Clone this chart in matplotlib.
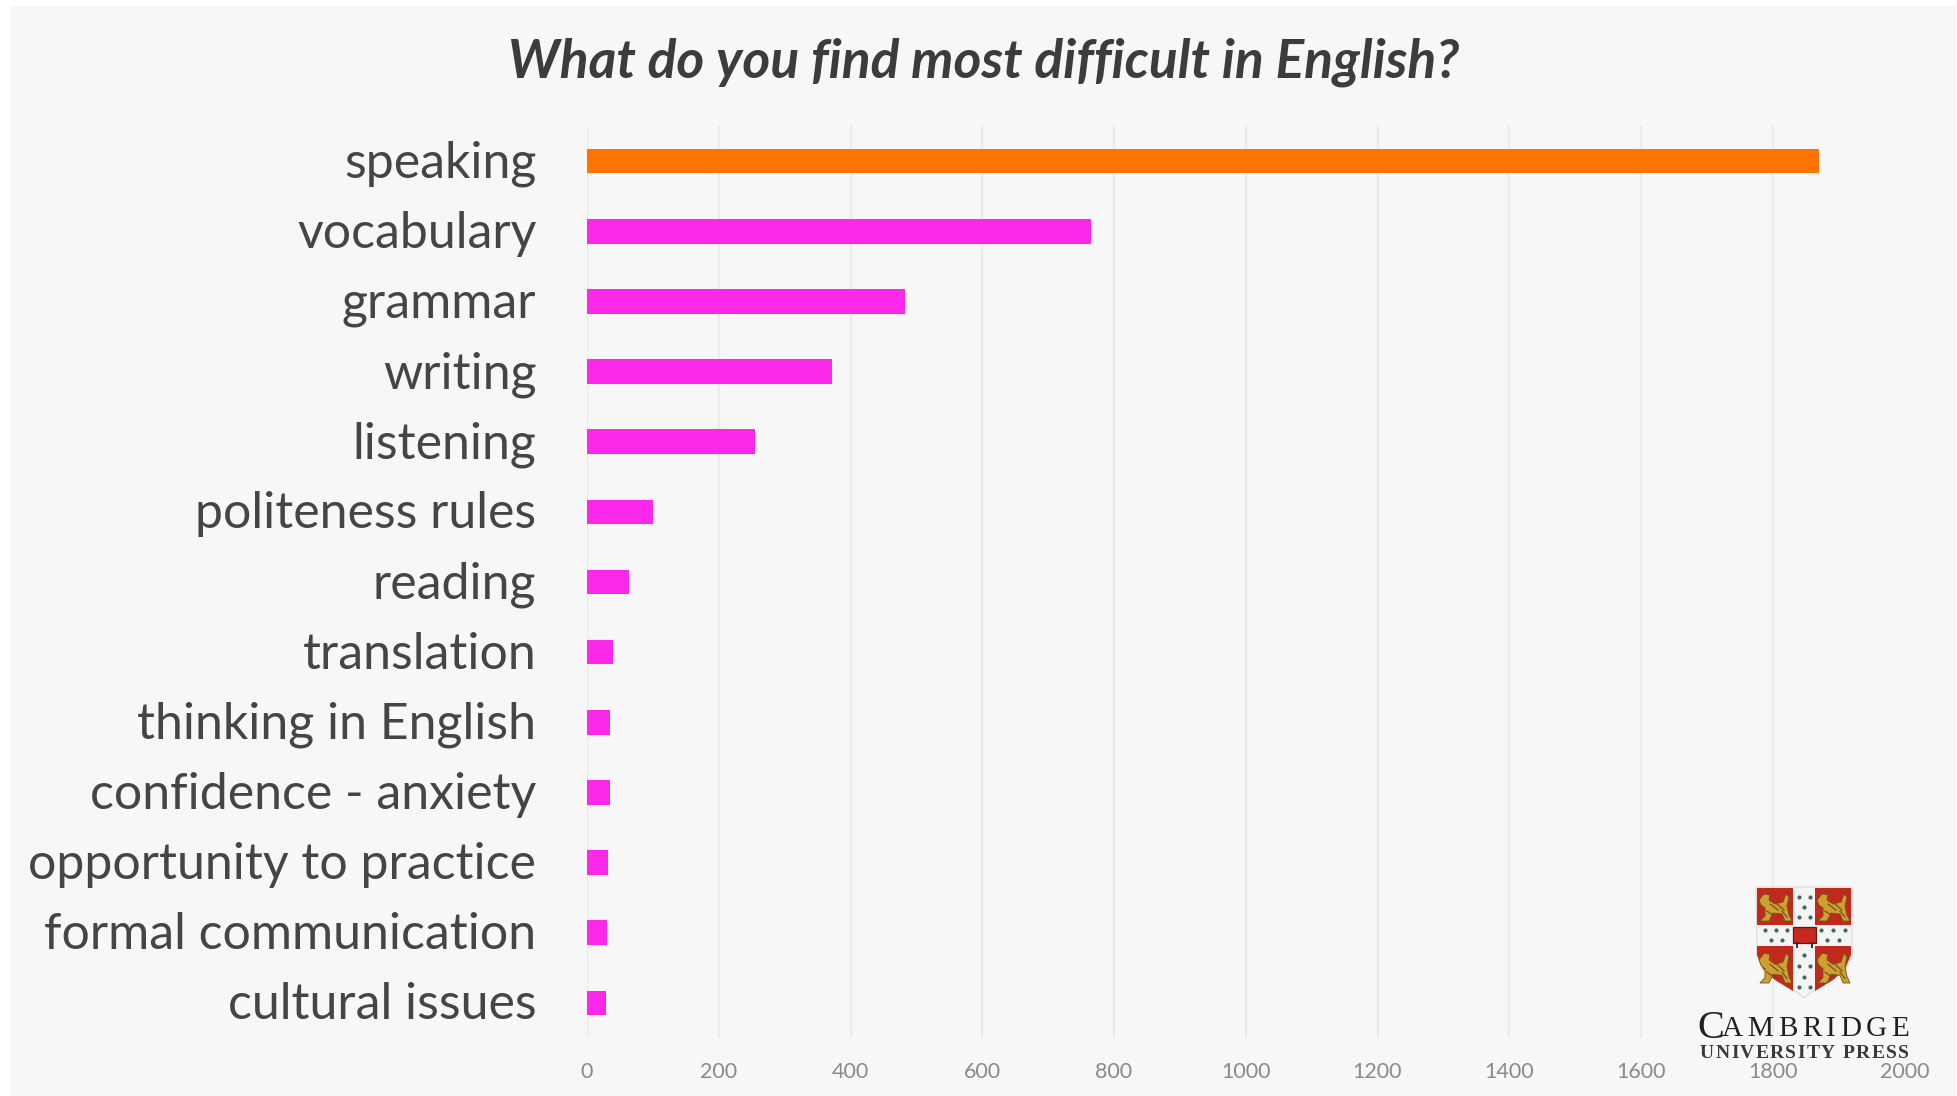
# horizontal bars of reported difficulties in English, with the press crest in the corner

import matplotlib
matplotlib.use('Agg')
import matplotlib.pyplot as plt
from matplotlib.patches import Polygon, Rectangle
from matplotlib.transforms import ScaledTranslation

categories = ['speaking', 'vocabulary', 'grammar', 'writing', 'listening',
              'politeness rules', 'reading', 'translation', 'thinking in English',
              'confidence - anxiety', 'opportunity to practice',
              'formal communication', 'cultural issues']
counts = [1870, 765, 482, 372, 255, 100, 64, 39, 35, 35, 32, 31, 29]
bar_colors = ['#ff7300'] + ['#fb28ea'] * 12
x_ticks = list(range(0, 2001, 200))

W, H = 1957, 1096
plt.rcParams['font.family'] = ['Lato', 'DejaVu Sans']

fig = plt.figure(figsize=(W / 100, H / 100), dpi=100, facecolor='white')


def px_axes(left, top, right, bottom):
    return fig.add_axes([left / W, 1 - bottom / H, (right - left) / W, (bottom - top) / H])


def spaced(axis, x0, x1, y, text, **kw):
    # lay letters out one by one so the word fills x0..x1
    r = fig.canvas.get_renderer()
    items = [axis.text(0, y, c, va='center', ha='left', **kw) for c in text]
    widths = [t.get_window_extent(r).width if c != ' ' else kw['fontsize'] * 0.35 for t, c in zip(items, text)]
    gap = (x1 - x0 - sum(widths)) / (len(text) - 1)
    x = x0
    for t, w in zip(items, widths):
        t.set_x(x)
        x += w + gap


# pale grey panel behind everything
bg = fig.add_axes([0, 0, 1, 1], zorder=0)
bg.set_xlim(0, W)
bg.set_ylim(H, 0)
bg.axis('off')
bg.add_patch(Rectangle((10, 6), W - 11, H - 6, color='#f7f7f7', lw=0))

ax = px_axes(587, 126, 1904.5, 1038)
ax.set_zorder(1)
ax.patch.set_alpha(0)
ax.barh(categories, counts, height=0.35, color=bar_colors, zorder=3)
ax.set_ylim(12.5, -0.5)
ax.set_xlim(0, 2000)
ax.set_xticks(x_ticks)
ax.grid(axis='x', color='#ebebeb', lw=1.6, zorder=0)
ax.grid(axis='y', visible=False)
for s in ax.spines.values():
    s.set_visible(False)
ax.tick_params(axis='x', length=0, labelsize=15.5, labelcolor='#8a8a8a', pad=17)
ax.tick_params(axis='y', length=0, labelsize=36, labelcolor='#454545', pad=36.5)
# nudge the category names up a little from the bar centres
for lab in ax.get_yticklabels():
    lab.set_transform(lab.get_transform() + ScaledTranslation(0, 2 / 100, fig.dpi_scale_trans))

fig.text(984 / W, 1 - 62 / H, 'What do you find most difficult in English?', ha='center', va='center',
         fontsize=38.4, fontweight='bold', fontstyle='italic', color='#3c3c3c')

# crest, drawn in pixel coordinates on a top layer
logo = fig.add_axes([0, 0, 1, 1], zorder=2)
logo.set_xlim(0, W)
logo.set_ylim(H, 0)
logo.axis('off')
logo.patch.set_alpha(0)

shield = [(1756, 887), (1852, 887), (1852, 955), (1846, 970), (1832, 980), (1815, 989), (1804, 998),
          (1793, 989), (1776, 980), (1763, 970), (1757, 955)]
logo.add_patch(Polygon(shield, closed=True, fc='#f4f4f4', ec='#e0d8d8', lw=0.8))
quarters = [
    [(1757, 888), (1793, 888), (1793, 925), (1757, 925)],
    [(1815, 888), (1851, 888), (1851, 925), (1815, 925)],
    [(1757, 946), (1793, 946), (1793, 991), (1775, 980), (1763, 969), (1757, 955)],
    [(1815, 946), (1851, 946), (1851, 955), (1845, 969), (1833, 980), (1815, 991)],
]
for q in quarters:
    logo.add_patch(Polygon(q, closed=True, fc='#bf2a1c', lw=0))

# one lion outline with a few dark stripes, repeated in each quarter
lion = [(1, 9), (6, 3), (12, 4), (11, 9), (17, 13), (25, 11), (28, 3), (31, 6), (29, 15), (31, 24), (34, 30),
        (27, 30), (24, 23), (15, 22), (11, 30), (2, 30), (7, 25), (7, 17), (3, 14)]
stripes = [[(12, 13), (20, 19)], [(19, 13), (26, 19)], [(9, 20), (16, 25)], [(24, 20), (29, 26)]]
for ox, oy, sy in [(1758, 891, 1), (1816, 891, 1), (1758, 950, 1.1), (1816, 950, 1.1)]:
    logo.add_patch(Polygon([(ox + px, oy + py * sy) for px, py in lion], closed=True,
                           fc='#cf9f30', ec='#6f5420', lw=0.6))
    for (x0, y0), (x1, y1) in stripes:
        logo.plot([ox + x0, ox + x1], [oy + y0 * sy, oy + y1 * sy], color='#6f5420', lw=0.9)

# the book at the centre of the cross, with its clasps
logo.add_patch(Rectangle((1793, 927), 23, 16, fc='#c8281e', ec='#5a1a14', lw=0.9))
logo.plot([1797, 1797], [943, 947], color='#3a2a20', lw=1.4)
logo.plot([1812, 1812], [943, 947], color='#3a2a20', lw=1.4)

ermine = [(1799, 897), (1810, 897), (1804, 907), (1799, 917), (1810, 917),
          (1765, 930), (1776, 930), (1787, 930), (1771, 940), (1782, 940),
          (1821, 930), (1833, 930), (1845, 930), (1827, 940), (1839, 940),
          (1804, 955), (1799, 966), (1810, 966), (1804, 977), (1799, 987), (1810, 987)]
logo.scatter([p[0] for p in ermine], [p[1] for p in ermine], s=9, c='#3f6a62', lw=0)

serif = ['Liberation Serif', 'DejaVu Serif']
logo.text(1697, 1028, 'C', fontsize=29, family=serif, color='#202020', va='center', ha='left')
spaced(logo, 1722, 1909, 1029, 'AMBRIDGE', fontsize=21, family=serif, color='#202020')
spaced(logo, 1700, 1909, 1053, 'UNIVERSITY PRESS', fontsize=14, fontweight='bold', family=serif, color='#3a3a3a')

plt.savefig('out.png', dpi=100)
